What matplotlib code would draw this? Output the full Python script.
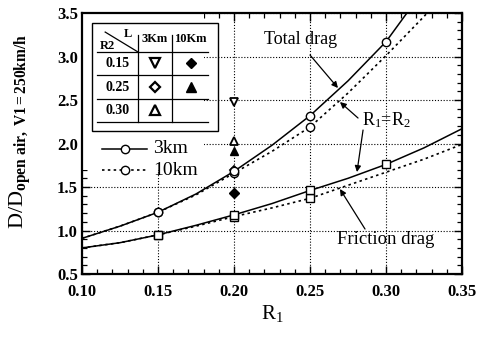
import numpy as np
import matplotlib
matplotlib.use("Agg")
import matplotlib.pyplot as plt
from matplotlib.patches import Rectangle
from matplotlib.ticker import MultipleLocator, FormatStrFormatter

plt.rcParams["font.family"] = ["Liberation Serif", "DejaVu Serif"]
plt.rcParams["mathtext.fontset"] = "custom"
plt.rcParams["mathtext.rm"] = "Liberation Serif"
plt.rcParams["mathtext.it"] = "Liberation Serif:italic"
plt.rcParams["mathtext.bf"] = "Liberation Serif:bold"

# fitted curves
r1_curve = [0.100, 0.125, 0.150, 0.175, 0.200, 0.225, 0.250, 0.275, 0.300, 0.325, 0.350]
total_3km_curve = [0.91, 1.05, 1.21, 1.42, 1.68, 1.98, 2.32, 2.72, 3.17, 3.77, np.nan]
total_10km_curve = [0.91, 1.05, 1.21, 1.41, 1.66, 1.91, 2.19, 2.58, 3.01, 3.46, 3.95]
friction_3km_curve = [0.80, 0.86, 0.95, 1.06, 1.18, 1.31, 1.46, 1.60, 1.76, 1.95, 2.17]
friction_10km_curve = [0.80, 0.86, 0.95, 1.05, 1.16, 1.26, 1.37, 1.52, 1.67, 1.82, 1.99]

# measured points
r1_pts_3km = [0.15, 0.20, 0.25, 0.30]
total_pts_3km = [1.21, 1.68, 2.32, 3.17]
friction_pts_3km = [0.95, 1.18, 1.46, 1.76]
r1_pts_10km = [0.15, 0.20, 0.25]
total_pts_10km = [1.21, 1.66, 2.19]
friction_pts_10km = [0.95, 1.16, 1.37]

# R1 = 0.20 with other R2 values (L = 3km open, 10km filled)
r2_labels = ["0.15", "0.25", "0.30"]
r1_r2 = 0.20
total_r2_3km = [2.48, 1.70, 2.03]
total_r2_10km = [1.43, 1.91]
markers_3km = ["v", "D", "^"]
markers_10km = ["D", "^"]

fig = plt.figure(figsize=(4.81, 3.38), dpi=100)
ax = fig.add_axes([0.1705, 0.1893, 0.79, 0.7722])

ax.set_xlim(0.10, 0.35)
ax.set_ylim(0.5, 3.5)
ax.xaxis.set_major_locator(MultipleLocator(0.05))
ax.xaxis.set_minor_locator(MultipleLocator(0.01))
ax.yaxis.set_major_locator(MultipleLocator(0.5))
ax.yaxis.set_minor_locator(MultipleLocator(0.1))
ax.xaxis.set_major_formatter(FormatStrFormatter("%.2f"))
ax.yaxis.set_major_formatter(FormatStrFormatter("%.1f"))
ax.tick_params(which="both", direction="in", top=True, right=True, labelsize=12)
ax.tick_params(axis="x", pad=7)
ax.tick_params(axis="y", pad=3)
ax.tick_params(which="major", length=6, width=1)
ax.tick_params(which="minor", length=3.5, width=0.9)
for lab in ax.get_xticklabels() + ax.get_yticklabels():
    lab.set_fontweight("bold")
for s in ax.spines.values():
    s.set_linewidth(1.6)
ax.grid(True, which="major", color="black", linestyle=(0, (1.0, 1.6)), linewidth=0.8)
ax.set_axisbelow(True)

# white area behind the legend table
ax.add_patch(Rectangle((0.0, 0.40), 0.32, 0.60, transform=ax.transAxes,
                       facecolor="white", edgecolor="none", zorder=1.5))

solid = dict(color="black", linewidth=1.1, zorder=3)
dotted = dict(color="black", linewidth=1.2, linestyle=(0, (1.5, 2.0)), zorder=3)
ax.plot(r1_curve, total_3km_curve, **solid)
ax.plot(r1_curve, total_10km_curve, **dotted)
ax.plot(r1_curve, friction_3km_curve, **solid)
ax.plot(r1_curve, friction_10km_curve, **dotted)

mk = dict(linestyle="none", mfc="white", mec="black", mew=1.0, zorder=5)
ax.plot(r1_pts_10km, total_pts_10km, marker="o", ms=6, **mk)
ax.plot(r1_pts_3km, total_pts_3km, marker="o", ms=6, **mk)
ax.plot(r1_pts_10km, friction_pts_10km, marker="s", ms=6, **mk)
ax.plot(r1_pts_3km, friction_pts_3km, marker="s", ms=6, **mk)

for m, v in zip(markers_3km, total_r2_3km):
    ax.plot([r1_r2], [v], marker=m, ms=5.5 if m != "D" else 4.5,
            linestyle="none", mfc="white", mec="black", mew=1.3, zorder=4)
for m, v in zip(markers_10km, total_r2_10km):
    ax.plot([r1_r2], [v], marker=m, ms=6 if m != "D" else 5,
            linestyle="none", mfc="black", mec="black", zorder=4)

ax.set_xlabel("R$_1$", fontsize=15, labelpad=2)
fig.text(20 / 481, (338 - 131) / 338, r"D/D$_{\mathbf{open\ air,\ V1=250km/h}}$",
         rotation=90, fontsize=16, ha="center", va="center")

# annotations
arrow = dict(arrowstyle="-|>", color="black", lw=0.9, mutation_scale=9,
             shrinkA=0, shrinkB=0)
ax.text(0.2441, 3.20, "Total drag", fontsize=13, ha="center", va="center", zorder=6)
ax.annotate("", xy=(0.2684, 2.638), xytext=(0.250, 3.017), arrowprops=arrow)
ax.text(0.2842, 2.27, "R$_1$=R$_2$", fontsize=13, ha="left", va="center", zorder=6)
ax.annotate("", xy=(0.2697, 2.477), xytext=(0.2816, 2.293), arrowprops=arrow)
ax.annotate("", xy=(0.2809, 1.672), xytext=(0.2849, 2.155), arrowprops=arrow)
ax.text(0.300, 0.891, "Friction drag", fontsize=13.5, ha="center", va="center", zorder=6)
ax.annotate("", xy=(0.2697, 1.477), xytext=(0.2862, 1.017), arrowprops=arrow)

# legend table (axes fraction coordinates)
tr = ax.transAxes
ax.add_patch(Rectangle((0.026, 0.548), 0.332, 0.414, transform=tr, fill=False,
                       edgecolor="black", linewidth=1.0, zorder=6))
for fy in [0.851, 0.762, 0.670, 0.582]:
    ax.plot([0.039, 0.332], [fy, fy], transform=tr, color="black", lw=0.9, zorder=6)
ax.plot([0.147, 0.147], [0.916, 0.582], transform=tr, color="black", lw=0.9, zorder=6)
ax.plot([0.237, 0.237], [0.916, 0.582], transform=tr, color="black", lw=0.9, zorder=6)
ax.plot([0.061, 0.147], [0.927, 0.851], transform=tr, color="black", lw=0.9, zorder=6)
tk = dict(transform=tr, fontsize=10, fontweight="bold", ha="center", va="center", zorder=7)
hk = dict(tk, fontsize=9)
ax.text(0.122, 0.918, "L", **hk)
ax.text(0.066, 0.872, "R2", **hk)
ax.text(0.192, 0.900, "3Km", **hk)
ax.text(0.285, 0.900, "10Km", **hk)
row_y = [0.808, 0.716, 0.628]
for lab, fy in zip(r2_labels, row_y):
    ax.text(0.093, fy, lab, **tk)
for m, fy in zip(markers_3km, row_y):
    ax.plot([0.192], [fy], transform=tr, marker=m, ms=6.5 if m != "D" else 5,
            mfc="white", mec="black", mew=1.6, linestyle="none", zorder=7)
for m, fy in zip(markers_10km, row_y):
    ax.plot([0.287], [fy], transform=tr, marker=m, ms=6.5 if m != "D" else 5.5,
            mfc="black", mec="black", linestyle="none", zorder=7)

# line legend
ax.plot([0.053, 0.171], [0.479, 0.479], transform=tr, color="black", lw=1.1, zorder=6)
ax.plot([0.113], [0.479], transform=tr, marker="o", ms=6, mfc="white", mec="black", zorder=7)
ax.text(0.187, 0.479, "3km", transform=tr, fontsize=14, va="center", zorder=7)
ax.plot([0.053, 0.171], [0.398, 0.398], transform=tr, color="black", lw=1.2,
        linestyle=(0, (1.5, 2.0)), zorder=6)
ax.plot([0.113], [0.398], transform=tr, marker="o", ms=6, mfc="white", mec="black", zorder=7)
ax.text(0.187, 0.398, "10km", transform=tr, fontsize=14, va="center", zorder=7)

fig.savefig("out.png", dpi=100)
